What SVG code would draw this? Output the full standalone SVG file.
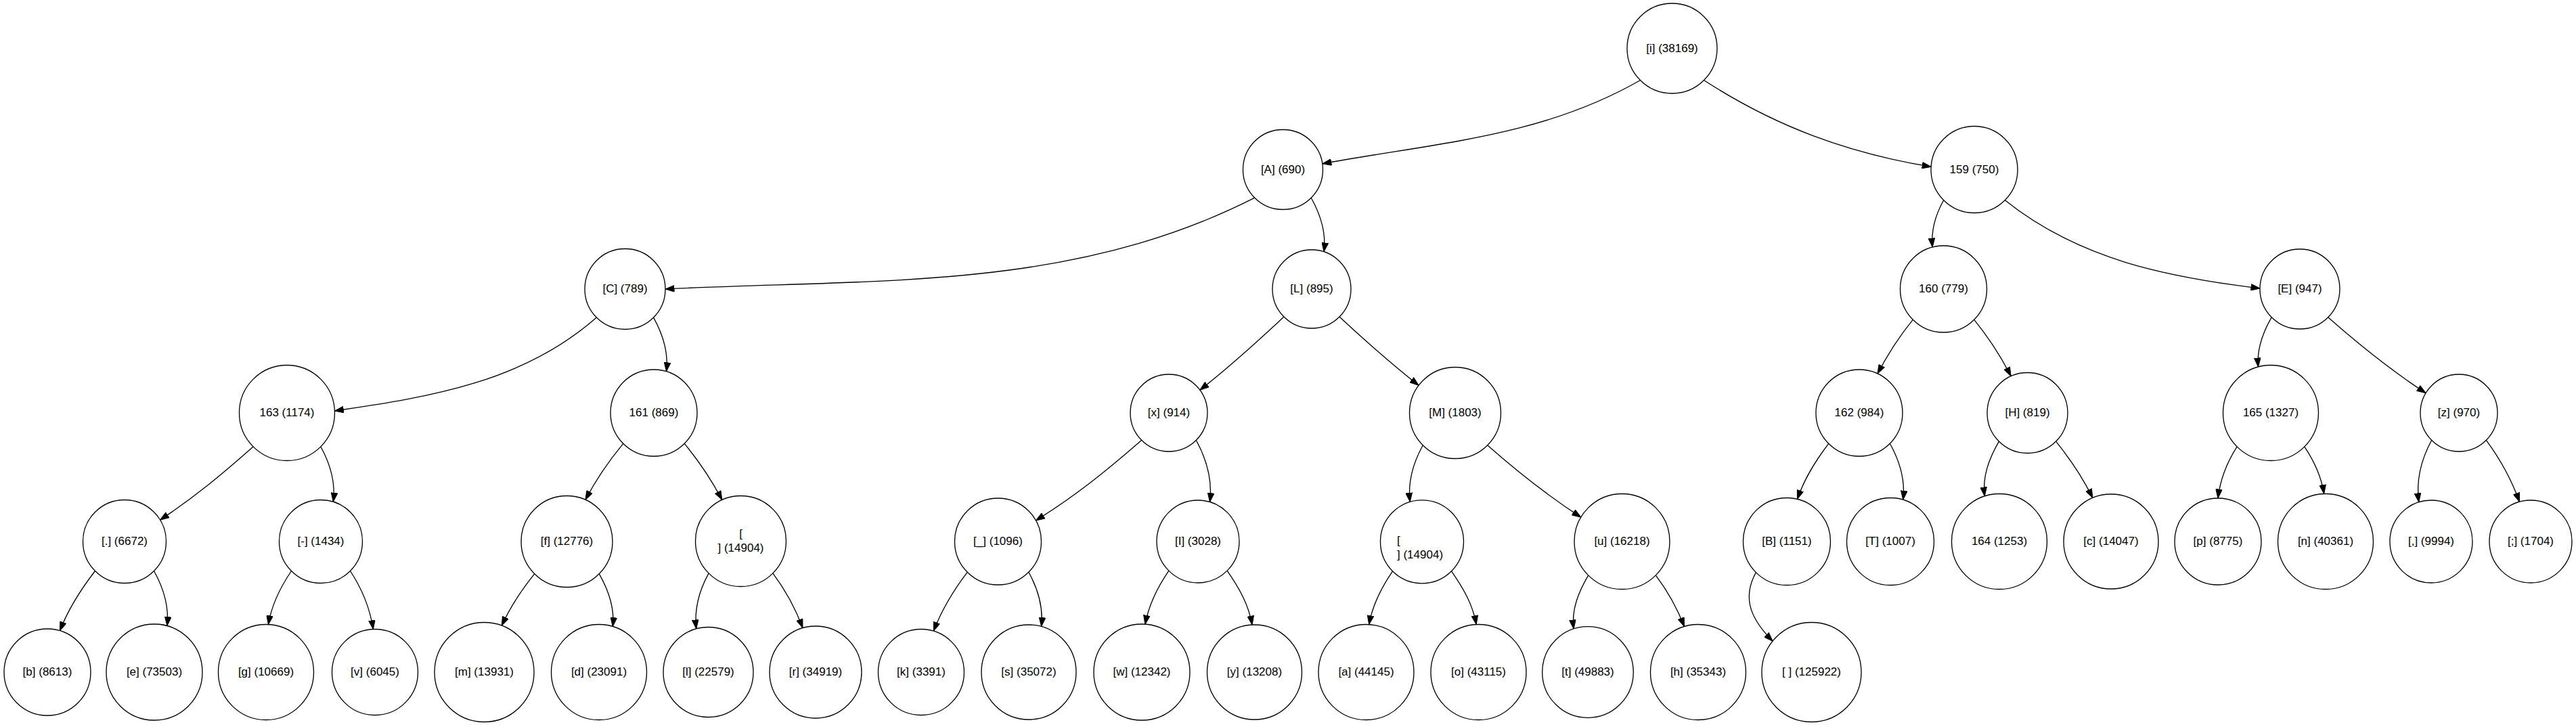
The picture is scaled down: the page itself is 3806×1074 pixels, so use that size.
<svg xmlns="http://www.w3.org/2000/svg" width="3806" height="1074" viewBox="0 0 3806 1074">
<style>
.node circle{fill:#fff;stroke:#000;stroke-width:1.33}
.node text{font-family:"Liberation Sans",Arial,sans-serif;font-size:17px;fill:#000;text-anchor:middle}
.node text.l{text-anchor:start}
#edges path{fill:none;stroke:#000;stroke-width:1.33;marker-end:url(#ah)}
</style>
<defs>
<marker id="ah" markerUnits="userSpaceOnUse" markerWidth="14" markerHeight="10" viewBox="0 0 14 10" refX="13.5" refY="5" orient="auto">
<path d="M0.5,0.3 L13.5,5 L0.5,9.7 z" fill="#000" stroke="#000" stroke-width="1"/>
</marker>
</defs>
<rect width="3806" height="1074" fill="#fff"/>
<g id="edges">
<path d="M2423.5,118.5 C2276.2,203.1 2120.9,210.9 1953.9,241.9"/>
<path d="M2517.5,118.5 C2623,186.8 2729.1,225.9 2853.1,246.4"/>
<path d="M1853.8,292.2 C1578.8,431.7 1291,411.2 983,427"/>
<path d="M1937.2,292.2 C1951.2,317.3 1959.9,343.5 1956,371.9"/>
<path d="M2871.7,295.8 C2859.6,317.5 2852.8,340.3 2855.2,365.1"/>
<path d="M2962.3,295.8 C3071.3,383 3200.5,409.1 3339,426"/>
<path d="M881.4,469.1 C773.5,564 636.7,586.6 494.4,607"/>
<path d="M965.6,469.1 C979.5,494.1 987.9,520.3 984.5,548.7"/>
<path d="M1897,468 C1854.9,507.3 1818.3,540.8 1772.9,576.2"/>
<path d="M1979,468 C2018.7,504.9 2053.5,535.8 2096.1,569.4"/>
<path d="M2826.2,472.3 C2805.2,498.1 2789.6,522.5 2774.1,552"/>
<path d="M2916.8,472.3 C2938.8,499.4 2955.3,524.6 2971.2,555.7"/>
<path d="M3356.3,468.7 C3343,491.7 3334.1,515.5 3336.5,542"/>
<path d="M3439.7,468.7 C3487.6,511 3530.7,545.7 3584.1,580.7"/>
<path d="M374.2,659.8 C328.4,700.5 287.7,734.2 236.6,768.1"/>
<path d="M473.8,659.8 C488,685.5 496.1,712.2 492.3,741.3"/>
<path d="M920.7,655.3 C898.5,682.3 881.1,707.2 865,738.3"/>
<path d="M1011.3,655.3 C1033.5,682.4 1050.6,707.5 1066.8,738.5"/>
<path d="M1686.7,650.3 C1634.9,695.5 1588.8,732.7 1530.4,768.9"/>
<path d="M1767.3,650.3 C1783,679 1791.5,709.1 1787.5,741.6"/>
<path d="M2102.3,657.7 C2087.8,684 2079.7,711.6 2083.3,741.4"/>
<path d="M2197.7,657.7 C2243.5,698 2284.6,730.9 2335.8,764.1"/>
<path d="M2701.7,655.3 C2681.8,681.6 2666.3,706.2 2655.5,737.4"/>
<path d="M2792.3,655.3 C2806.8,681.3 2815.3,708.7 2811.7,738.3"/>
<path d="M2953.4,652.1 C2938.9,677.4 2928.6,703.9 2932.3,732.9"/>
<path d="M3037.6,652.1 C3059.5,679.1 3076.5,704.3 3091.9,735.5"/>
<path d="M3305.2,659.8 C3289.8,683.8 3280.3,707.7 3277,736"/>
<path d="M3404.8,659.8 C3419.5,681.7 3429.7,703.4 3433.7,729.5"/>
<path d="M3592.7,650.3 C3577.2,679.1 3569.4,709.4 3573.8,741.8"/>
<path d="M3673.3,650.3 C3694.9,679.3 3710.2,707.3 3722.5,741.3"/>
<path d="M140.5,843.5 C118.6,871.8 101.5,898.4 88.5,931.7"/>
<path d="M227.5,843.5 C241.8,869 249.9,895.5 246.9,924.5"/>
<path d="M430.5,843.5 C413.6,868.4 401.4,892.9 396.4,922.6"/>
<path d="M517.5,843.5 C535.3,870.6 546.5,897.6 551.4,929.6"/>
<path d="M789.8,847.7 C770,872.4 754.4,895.4 741.3,924.2"/>
<path d="M885.2,847.7 C899.1,872.1 908.5,897.6 905.3,925.5"/>
<path d="M1047.1,846.9 C1032.9,872.7 1025.5,899.7 1028.7,928.9"/>
<path d="M1141.9,846.9 C1161.2,872.7 1174.8,897.5 1186,927.7"/>
<path d="M1429.2,845.3 C1407.9,873.2 1392,899.5 1379.3,932.2"/>
<path d="M1519.8,845.3 C1533.8,870.5 1541.6,896.9 1538.6,925.5"/>
<path d="M1726.9,843.1 C1709.8,868.1 1697.5,892.4 1691.9,922.2"/>
<path d="M1813.1,843.1 C1830.7,868.4 1844.7,892.8 1850.1,923.1"/>
<path d="M2057.5,843.8 C2040.5,868.6 2028,893 2022.7,922.6"/>
<path d="M2144.5,843.8 C2161.9,868.7 2175.9,892.7 2181.2,922.6"/>
<path d="M2346.7,849.8 C2332.3,874.6 2321.5,900.5 2325.1,929"/>
<path d="M2446.3,849.8 C2464.6,874.1 2477.6,897.2 2488.5,925.6"/>
<path d="M2594.4,845.6 C2572,886 2589.8,917.4 2619.1,947.1"/>
</g>
<g id="n-root" class="node"><circle cx="2470.5" cy="71.5" r="66.5"/><text x="2470.5" y="76.5">[i] (38169)</text></g>
<g id="n-A" class="node"><circle cx="1895.5" cy="250.5" r="59"/><text x="1895.5" y="255.5">[A] (690)</text></g>
<g id="n-159" class="node"><circle cx="2917" cy="250.5" r="64"/><text x="2917" y="255.5">159 (750)</text></g>
<g id="n-C" class="node"><circle cx="923.5" cy="427" r="59.5"/><text x="923.5" y="432">[C] (789)</text></g>
<g id="n-L" class="node"><circle cx="1938" cy="427" r="58"/><text x="1938" y="432">[L] (895)</text></g>
<g id="n-160" class="node"><circle cx="2871.5" cy="427" r="64"/><text x="2871.5" y="432">160 (779)</text></g>
<g id="n-E" class="node"><circle cx="3398" cy="427" r="59"/><text x="3398" y="432">[E] (947)</text></g>
<g id="n-163" class="node"><circle cx="424" cy="610" r="70.5"/><text x="424" y="615">163 (1174)</text></g>
<g id="n-161" class="node"><circle cx="966" cy="610" r="64"/><text x="966" y="615">161 (869)</text></g>
<g id="n-x" class="node"><circle cx="1727" cy="610" r="57"/><text x="1727" y="615">[x] (914)</text></g>
<g id="n-M" class="node"><circle cx="2150" cy="610" r="67.5"/><text x="2150" y="615">[M] (1803)</text></g>
<g id="n-162" class="node"><circle cx="2747" cy="610" r="64"/><text x="2747" y="615">162 (984)</text></g>
<g id="n-H" class="node"><circle cx="2995.5" cy="610" r="59.5"/><text x="2995.5" y="615">[H] (819)</text></g>
<g id="n-165" class="node"><circle cx="3355" cy="610" r="70.5"/><text x="3355" y="615">165 (1327)</text></g>
<g id="n-z" class="node"><circle cx="3633" cy="610" r="57"/><text x="3633" y="615">[z] (970)</text></g>
<g id="n-dot" class="node"><circle cx="184" cy="800" r="61.5"/><text x="184" y="805">[.] (6672)</text></g>
<g id="n-dash" class="node"><circle cx="474" cy="800" r="61.5"/><text x="474" y="805">[-] (1434)</text></g>
<g id="n-f" class="node"><circle cx="837.5" cy="800" r="67.5"/><text x="837.5" y="805">[f] (12776)</text></g>
<g id="n-nl1" class="node"><circle cx="1094.5" cy="799.5" r="67"/><text x="1094.5" y="794.2">[</text><text x="1094.5" y="814.8">] (14904)</text></g>
<g id="n-us" class="node"><circle cx="1474.5" cy="800" r="64"/><text x="1474.5" y="805">[_] (1096)</text></g>
<g id="n-I" class="node"><circle cx="1770" cy="800" r="61"/><text x="1770" y="805">[I] (3028)</text></g>
<g id="n-nl2" class="node"><circle cx="2101" cy="800.3" r="61.5"/><text class="l" x="2064" y="804.2">[</text><text class="l" x="2064" y="825.2">] (14904)</text></g>
<g id="n-u" class="node"><circle cx="2396.5" cy="800" r="70.5"/><text x="2396.5" y="805">[u] (16218)</text></g>
<g id="n-B" class="node"><circle cx="2640" cy="800" r="64.5"/><text x="2640" y="805">[B] (1151)</text></g>
<g id="n-T" class="node"><circle cx="2793" cy="800" r="64.5"/><text x="2793" y="805">[T] (1007)</text></g>
<g id="n-164" class="node"><circle cx="2954" cy="800" r="70.5"/><text x="2954" y="805">164 (1253)</text></g>
<g id="n-c" class="node"><circle cx="3119" cy="800" r="70"/><text x="3119" y="805">[c] (14047)</text></g>
<g id="n-p" class="node"><circle cx="3277" cy="800" r="64"/><text x="3277" y="805">[p] (8775)</text></g>
<g id="n-n" class="node"><circle cx="3436" cy="800" r="70.5"/><text x="3436" y="805">[n] (40361)</text></g>
<g id="n-comma" class="node"><circle cx="3592" cy="800" r="61"/><text x="3592" y="805">[,] (9994)</text></g>
<g id="n-semi" class="node"><circle cx="3739" cy="800" r="61"/><text x="3739" y="805">[;] (1704)</text></g>
<g id="n-b" class="node"><circle cx="70" cy="993" r="64"/><text x="70" y="998">[b] (8613)</text></g>
<g id="n-e" class="node"><circle cx="228" cy="993" r="71"/><text x="228" y="998">[e] (73503)</text></g>
<g id="n-g" class="node"><circle cx="393" cy="993" r="70.5"/><text x="393" y="998">[g] (10669)</text></g>
<g id="n-v" class="node"><circle cx="554" cy="993" r="63.5"/><text x="554" y="998">[v] (6045)</text></g>
<g id="n-m" class="node"><circle cx="715.5" cy="993" r="73.5"/><text x="715.5" y="998">[m] (13931)</text></g>
<g id="n-d" class="node"><circle cx="885" cy="993" r="70.5"/><text x="885" y="998">[d] (23091)</text></g>
<g id="n-l" class="node"><circle cx="1046.5" cy="993" r="66.5"/><text x="1046.5" y="998">[l] (22579)</text></g>
<g id="n-r" class="node"><circle cx="1205" cy="993" r="68"/><text x="1205" y="998">[r] (34919)</text></g>
<g id="n-k" class="node"><circle cx="1361" cy="993" r="63.5"/><text x="1361" y="998">[k] (3391)</text></g>
<g id="n-s" class="node"><circle cx="1520" cy="993" r="70"/><text x="1520" y="998">[s] (35072)</text></g>
<g id="n-w" class="node"><circle cx="1687" cy="993" r="71"/><text x="1687" y="998">[w] (12342)</text></g>
<g id="n-y" class="node"><circle cx="1853.5" cy="993" r="70"/><text x="1853.5" y="998">[y] (13208)</text></g>
<g id="n-a" class="node"><circle cx="2018.5" cy="993" r="70.5"/><text x="2018.5" y="998">[a] (44145)</text></g>
<g id="n-o" class="node"><circle cx="2184.5" cy="993" r="70.5"/><text x="2184.5" y="998">[o] (43115)</text></g>
<g id="n-t" class="node"><circle cx="2346" cy="993" r="67.3"/><text x="2346" y="998">[t] (49883)</text></g>
<g id="n-h" class="node"><circle cx="2509" cy="993" r="70.5"/><text x="2509" y="998">[h] (35343)</text></g>
<g id="n-space" class="node"><circle cx="2676.5" cy="993" r="73.5"/><text x="2676.5" y="998" xml:space="preserve">[ ] (125922)</text></g>
</svg>
